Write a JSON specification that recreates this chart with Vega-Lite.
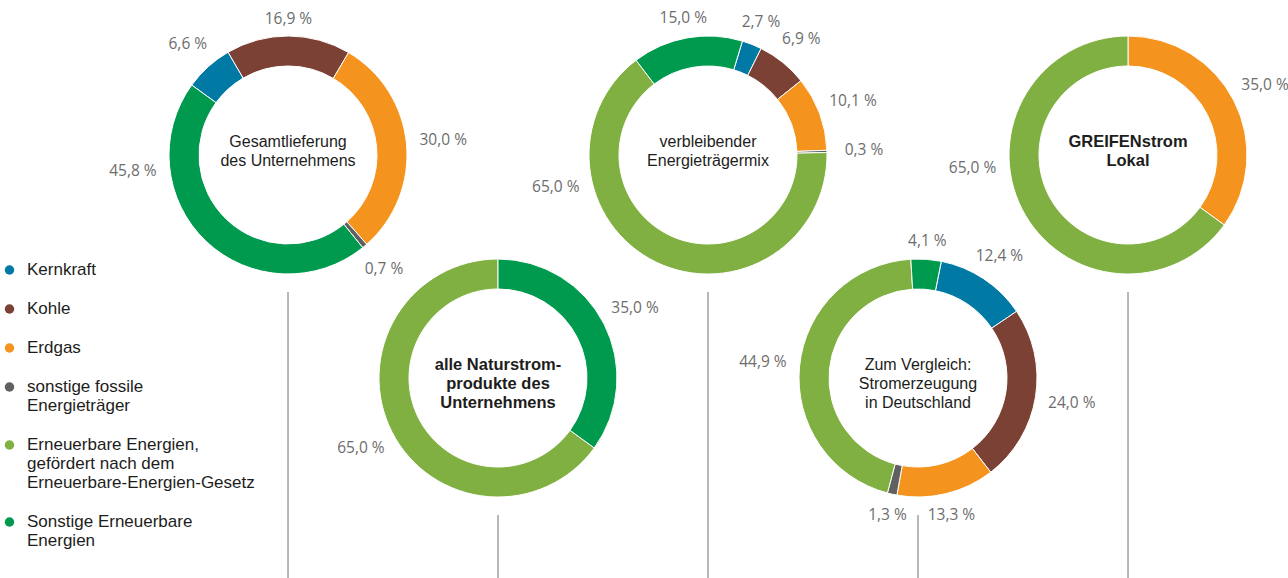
{
  "$schema": "https://vega.github.io/schema/vega-lite/v6.json",
  "width": 1288,
  "height": 578,
  "autosize": {"type": "none"},
  "padding": 0,
  "config": {"view": {"stroke": null}, "font": "Liberation Sans"},
  "datasets": {
    "diagramme": [
      {"chart": "Gesamtlieferung des Unternehmens", "titel": "Gesamtlieferung\ndes Unternehmens", "ebene": "oben"},
      {"chart": "alle Naturstromprodukte des Unternehmens", "titel": "alle Naturstrom-\nprodukte des\nUnternehmens", "ebene": "unten"},
      {"chart": "verbleibender Energieträgermix", "titel": "verbleibender\nEnergieträgermix", "ebene": "oben"},
      {"chart": "Zum Vergleich: Stromerzeugung in Deutschland", "titel": "Zum Vergleich:\nStromerzeugung\nin Deutschland", "ebene": "unten"},
      {"chart": "GREIFENstrom Lokal", "titel": "GREIFENstrom\nLokal", "ebene": "oben"}
    ],
    "traeger": [
      {"source": "Kernkraft", "nr": 1},
      {"source": "Kohle", "nr": 2},
      {"source": "Erdgas", "nr": 3},
      {"source": "sonstige fossile Energieträger", "nr": 4},
      {"source": "Erneuerbare Energien, gefördert nach dem Erneuerbare-Energien-Gesetz", "nr": 5},
      {"source": "Sonstige Erneuerbare Energien", "nr": 6}
    ],
    "anteile": [
      {"chart": "Gesamtlieferung des Unternehmens", "source": "Kernkraft", "value": 6.6},
      {"chart": "Gesamtlieferung des Unternehmens", "source": "Kohle", "value": 16.9},
      {"chart": "Gesamtlieferung des Unternehmens", "source": "Erdgas", "value": 30.0},
      {"chart": "Gesamtlieferung des Unternehmens", "source": "sonstige fossile Energieträger", "value": 0.7},
      {"chart": "Gesamtlieferung des Unternehmens", "source": "Sonstige Erneuerbare Energien", "value": 45.8},
      {"chart": "verbleibender Energieträgermix", "source": "Kernkraft", "value": 2.7},
      {"chart": "verbleibender Energieträgermix", "source": "Kohle", "value": 6.9},
      {"chart": "verbleibender Energieträgermix", "source": "Erdgas", "value": 10.1},
      {"chart": "verbleibender Energieträgermix", "source": "sonstige fossile Energieträger", "value": 0.3},
      {"chart": "verbleibender Energieträgermix", "source": "Erneuerbare Energien, gefördert nach dem Erneuerbare-Energien-Gesetz", "value": 65.0},
      {"chart": "verbleibender Energieträgermix", "source": "Sonstige Erneuerbare Energien", "value": 15.0},
      {"chart": "GREIFENstrom Lokal", "source": "Erdgas", "value": 35.0},
      {"chart": "GREIFENstrom Lokal", "source": "Erneuerbare Energien, gefördert nach dem Erneuerbare-Energien-Gesetz", "value": 65.0},
      {"chart": "alle Naturstromprodukte des Unternehmens", "source": "Erneuerbare Energien, gefördert nach dem Erneuerbare-Energien-Gesetz", "value": 65.0},
      {"chart": "alle Naturstromprodukte des Unternehmens", "source": "Sonstige Erneuerbare Energien", "value": 35.0},
      {"chart": "Zum Vergleich: Stromerzeugung in Deutschland", "source": "Kernkraft", "value": 12.4},
      {"chart": "Zum Vergleich: Stromerzeugung in Deutschland", "source": "Kohle", "value": 24.0},
      {"chart": "Zum Vergleich: Stromerzeugung in Deutschland", "source": "Erdgas", "value": 13.3},
      {"chart": "Zum Vergleich: Stromerzeugung in Deutschland", "source": "sonstige fossile Energieträger", "value": 1.3},
      {"chart": "Zum Vergleich: Stromerzeugung in Deutschland", "source": "Erneuerbare Energien, gefördert nach dem Erneuerbare-Energien-Gesetz", "value": 44.9},
      {"chart": "Zum Vergleich: Stromerzeugung in Deutschland", "source": "Sonstige Erneuerbare Energien", "value": 4.1}
    ]
  },
  "encoding": {
    "x": {"field": "chart", "type": "nominal", "axis": null,
      "scale": {"type": "point", "padding": 0, "range": [288, 1128],
        "domain": ["Gesamtlieferung des Unternehmens", "alle Naturstromprodukte des Unternehmens", "verbleibender Energieträgermix", "Zum Vergleich: Stromerzeugung in Deutschland", "GREIFENstrom Lokal"]}},
    "y": {"field": "ebene", "type": "nominal", "axis": null,
      "scale": {"type": "point", "padding": 0, "range": [155, 601], "domain": ["oben", "unten", "Basis"]}}
  },
  "layer": [
    {
      "data": {"name": "diagramme"},
      "mark": {"type": "rule", "color": "#707070", "strokeWidth": 1, "yOffset": 137},
      "encoding": {"y2": {"datum": "Basis"}}
    },
    {
      "data": {"name": "anteile"},
      "transform": [
        {"filter": {"field": "chart", "equal": "Gesamtlieferung des Unternehmens"}},
        {"lookup": "source", "from": {"data": {"name": "traeger"}, "key": "source", "fields": ["nr"]}},
        {"lookup": "chart", "from": {"data": {"name": "diagramme"}, "key": "chart", "fields": ["ebene"]}},
        {"stack": "value", "groupby": ["chart"], "sort": [{"field": "nr", "order": "ascending"}], "as": ["v0", "v1"]},
        {"calculate": "(datum.v0 + datum.v1) / 2 + (datum.value > 40 ? 11.25 : 0)", "as": "mitte"},
        {"calculate": "abs(sin((datum.mitte * 3.6 - 54) * PI / 180))", "as": "seitlich"},
        {"calculate": "replace(format(datum.value, '.1f'), '.', ',') + ' %'", "as": "beschriftung"}
      ],
      "layer": [
        {
          "mark": {"type": "arc", "innerRadius": 89, "outerRadius": 119, "stroke": "#ffffff", "strokeWidth": 1},
          "encoding": {
            "theta": {"field": "v0", "type": "quantitative", "stack": null, "scale": {"domain": [0, 100], "range": [-0.94248, 5.34071]}},
            "theta2": {"field": "v1"},
            "color": {"field": "source", "type": "nominal",
              "scale": {"domain": ["Kernkraft", "Kohle", "Erdgas", "sonstige fossile Energieträger", "Erneuerbare Energien, gefördert nach dem Erneuerbare-Energien-Gesetz", "Sonstige Erneuerbare Energien"],
                "range": ["#0079a5", "#7c4135", "#f5931f", "#606060", "#80b042", "#009a4e"]},
              "legend": {
                "orient": "none", "legendX": 1, "legendY": 261.5, "title": null, "padding": 0,
                "symbolType": "circle", "symbolSize": 90, "symbolStrokeWidth": 0,
                "labelFont": "Liberation Sans", "labelFontSize": 17, "labelColor": "#1d1d1b", "labelLimit": 0,
                "labelOffset": 9, "rowPadding": 21, "labelBaseline": "middle",
                "labelExpr": "datum.label == 'sonstige fossile Energieträger' ? ['sonstige fossile', 'Energieträger'] : datum.label == 'Erneuerbare Energien, gefördert nach dem Erneuerbare-Energien-Gesetz' ? ['Erneuerbare Energien,', 'gefördert nach dem', 'Erneuerbare-Energien-Gesetz'] : datum.label == 'Sonstige Erneuerbare Energien' ? ['Sonstige Erneuerbare', 'Energien'] : datum.label"
              }}
          }
        },
        {
          "mark": {"type": "text", "font": "Open Sans", "fontSize": 15.5, "color": "#6d6d6d", "align": "center", "baseline": "middle"},
          "encoding": {
            "theta": {"field": "mitte", "type": "quantitative", "stack": null, "scale": {"domain": [0, 100], "range": [-0.94248, 5.34071]}},
            "radius": {"field": "seitlich", "type": "quantitative", "stack": null, "scale": {"type": "linear", "zero": false, "domain": [0, 1], "range": [136, 156]}},
            "text": {"field": "beschriftung", "type": "nominal"}
          }
        }
      ]
    },
    {
      "data": {"name": "anteile"},
      "transform": [
        {"filter": {"field": "chart", "equal": "verbleibender Energieträgermix"}},
        {"lookup": "source", "from": {"data": {"name": "traeger"}, "key": "source", "fields": ["nr"]}},
        {"lookup": "chart", "from": {"data": {"name": "diagramme"}, "key": "chart", "fields": ["ebene"]}},
        {"stack": "value", "groupby": ["chart"], "sort": [{"field": "nr", "order": "ascending"}], "as": ["v0", "v1"]},
        {"calculate": "(datum.v0 + datum.v1) / 2 + (datum.value > 40 ? 14.5 : 0)", "as": "mitte"},
        {"calculate": "abs(sin((datum.mitte * 3.6 + 16.8) * PI / 180))", "as": "seitlich"},
        {"calculate": "replace(format(datum.value, '.1f'), '.', ',') + ' %'", "as": "beschriftung"}
      ],
      "layer": [
        {
          "mark": {"type": "arc", "innerRadius": 89, "outerRadius": 119, "stroke": "#ffffff", "strokeWidth": 1},
          "encoding": {
            "theta": {"field": "v0", "type": "quantitative", "stack": null, "scale": {"domain": [0, 100], "range": [0.29322, 6.5764]}},
            "theta2": {"field": "v1"},
            "color": {"field": "source", "type": "nominal",
              "scale": {"domain": ["Kernkraft", "Kohle", "Erdgas", "sonstige fossile Energieträger", "Erneuerbare Energien, gefördert nach dem Erneuerbare-Energien-Gesetz", "Sonstige Erneuerbare Energien"],
                "range": ["#0079a5", "#7c4135", "#f5931f", "#606060", "#80b042", "#009a4e"]}}
          }
        },
        {
          "mark": {"type": "text", "font": "Open Sans", "fontSize": 15.5, "color": "#6d6d6d", "align": "center", "baseline": "middle"},
          "encoding": {
            "theta": {"field": "mitte", "type": "quantitative", "stack": null, "scale": {"domain": [0, 100], "range": [0.29322, 6.5764]}},
            "radius": {"field": "seitlich", "type": "quantitative", "stack": null, "scale": {"type": "linear", "zero": false, "domain": [0, 1], "range": [136, 156]}},
            "text": {"field": "beschriftung", "type": "nominal"}
          }
        }
      ]
    },
    {
      "data": {"name": "anteile"},
      "transform": [
        {"filter": {"field": "chart", "equal": "GREIFENstrom Lokal"}},
        {"lookup": "source", "from": {"data": {"name": "traeger"}, "key": "source", "fields": ["nr"]}},
        {"lookup": "chart", "from": {"data": {"name": "diagramme"}, "key": "chart", "fields": ["ebene"]}},
        {"stack": "value", "groupby": ["chart"], "sort": [{"field": "nr", "order": "ascending"}], "as": ["v0", "v1"]},
        {"calculate": "(datum.v0 + datum.v1) / 2 + (datum.value > 40 ? 6.2 : 0)", "as": "mitte"},
        {"calculate": "abs(sin((datum.mitte * 3.6) * PI / 180))", "as": "seitlich"},
        {"calculate": "replace(format(datum.value, '.1f'), '.', ',') + ' %'", "as": "beschriftung"}
      ],
      "layer": [
        {
          "mark": {"type": "arc", "innerRadius": 89, "outerRadius": 119, "stroke": "#ffffff", "strokeWidth": 1},
          "encoding": {
            "theta": {"field": "v0", "type": "quantitative", "stack": null, "scale": {"domain": [0, 100], "range": [0, 6.28319]}},
            "theta2": {"field": "v1"},
            "color": {"field": "source", "type": "nominal",
              "scale": {"domain": ["Kernkraft", "Kohle", "Erdgas", "sonstige fossile Energieträger", "Erneuerbare Energien, gefördert nach dem Erneuerbare-Energien-Gesetz", "Sonstige Erneuerbare Energien"],
                "range": ["#0079a5", "#7c4135", "#f5931f", "#606060", "#80b042", "#009a4e"]}}
          }
        },
        {
          "mark": {"type": "text", "font": "Open Sans", "fontSize": 15.5, "color": "#6d6d6d", "align": "center", "baseline": "middle"},
          "encoding": {
            "theta": {"field": "mitte", "type": "quantitative", "stack": null, "scale": {"domain": [0, 100], "range": [0, 6.28319]}},
            "radius": {"field": "seitlich", "type": "quantitative", "stack": null, "scale": {"type": "linear", "zero": false, "domain": [0, 1], "range": [136, 156]}},
            "text": {"field": "beschriftung", "type": "nominal"}
          }
        }
      ]
    },
    {
      "data": {"name": "anteile"},
      "transform": [
        {"filter": {"field": "chart", "equal": "alle Naturstromprodukte des Unternehmens"}},
        {"lookup": "source", "from": {"data": {"name": "traeger"}, "key": "source", "fields": ["nr"]}},
        {"lookup": "chart", "from": {"data": {"name": "diagramme"}, "key": "chart", "fields": ["ebene"]}},
        {"stack": "value", "groupby": ["chart"], "sort": [{"field": "nr", "order": "ascending"}], "as": ["v0", "v1"]},
        {"calculate": "(datum.v0 + datum.v1) / 2", "as": "mitte"},
        {"calculate": "abs(sin((datum.mitte * 3.6 + 126) * PI / 180))", "as": "seitlich"},
        {"calculate": "replace(format(datum.value, '.1f'), '.', ',') + ' %'", "as": "beschriftung"}
      ],
      "layer": [
        {
          "mark": {"type": "arc", "innerRadius": 89, "outerRadius": 119, "stroke": "#ffffff", "strokeWidth": 1},
          "encoding": {
            "theta": {"field": "v0", "type": "quantitative", "stack": null, "scale": {"domain": [0, 100], "range": [2.19911, 8.4823]}},
            "theta2": {"field": "v1"},
            "color": {"field": "source", "type": "nominal",
              "scale": {"domain": ["Kernkraft", "Kohle", "Erdgas", "sonstige fossile Energieträger", "Erneuerbare Energien, gefördert nach dem Erneuerbare-Energien-Gesetz", "Sonstige Erneuerbare Energien"],
                "range": ["#0079a5", "#7c4135", "#f5931f", "#606060", "#80b042", "#009a4e"]}}
          }
        },
        {
          "mark": {"type": "text", "font": "Open Sans", "fontSize": 15.5, "color": "#6d6d6d", "align": "center", "baseline": "middle"},
          "encoding": {
            "theta": {"field": "mitte", "type": "quantitative", "stack": null, "scale": {"domain": [0, 100], "range": [2.19911, 8.4823]}},
            "radius": {"field": "seitlich", "type": "quantitative", "stack": null, "scale": {"type": "linear", "zero": false, "domain": [0, 1], "range": [136, 156]}},
            "text": {"field": "beschriftung", "type": "nominal"}
          }
        }
      ]
    },
    {
      "data": {"name": "anteile"},
      "transform": [
        {"filter": {"field": "chart", "equal": "Zum Vergleich: Stromerzeugung in Deutschland"}},
        {"lookup": "source", "from": {"data": {"name": "traeger"}, "key": "source", "fields": ["nr"]}},
        {"lookup": "chart", "from": {"data": {"name": "diagramme"}, "key": "chart", "fields": ["ebene"]}},
        {"stack": "value", "groupby": ["chart"], "sort": [{"field": "nr", "order": "ascending"}], "as": ["v0", "v1"]},
        {"calculate": "(datum.v0 + datum.v1) / 2", "as": "mitte"},
        {"calculate": "abs(sin((datum.mitte * 3.6 + 11.3) * PI / 180))", "as": "seitlich"},
        {"calculate": "replace(format(datum.value, '.1f'), '.', ',') + ' %'", "as": "beschriftung"}
      ],
      "layer": [
        {
          "mark": {"type": "arc", "innerRadius": 89, "outerRadius": 119, "stroke": "#ffffff", "strokeWidth": 1},
          "encoding": {
            "theta": {"field": "v0", "type": "quantitative", "stack": null, "scale": {"domain": [0, 100], "range": [0.19722, 6.4804]}},
            "theta2": {"field": "v1"},
            "color": {"field": "source", "type": "nominal",
              "scale": {"domain": ["Kernkraft", "Kohle", "Erdgas", "sonstige fossile Energieträger", "Erneuerbare Energien, gefördert nach dem Erneuerbare-Energien-Gesetz", "Sonstige Erneuerbare Energien"],
                "range": ["#0079a5", "#7c4135", "#f5931f", "#606060", "#80b042", "#009a4e"]}}
          }
        },
        {
          "mark": {"type": "text", "font": "Open Sans", "fontSize": 15.5, "color": "#6d6d6d", "align": "center", "baseline": "middle"},
          "encoding": {
            "theta": {"field": "mitte", "type": "quantitative", "stack": null, "scale": {"domain": [0, 100], "range": [0.19722, 6.4804]}},
            "radius": {"field": "seitlich", "type": "quantitative", "stack": null, "scale": {"type": "linear", "zero": false, "domain": [0, 1], "range": [136, 156]}},
            "text": {"field": "beschriftung", "type": "nominal"}
          }
        }
      ]
    },
    {
      "data": {"name": "diagramme"},
      "transform": [{"filter": "datum.chart !== 'GREIFENstrom Lokal' && datum.chart !== 'alle Naturstromprodukte des Unternehmens'"}],
      "mark": {"type": "text", "lineBreak": "\n", "font": "Liberation Sans", "fontSize": 16, "lineHeight": 19.4, "dy": -8.5, "align": "center", "baseline": "alphabetic", "color": "#1d1d1b"},
      "encoding": {"text": {"field": "titel", "type": "nominal"}}
    },
    {
      "data": {"name": "diagramme"},
      "transform": [{"filter": "datum.chart === 'GREIFENstrom Lokal' || datum.chart === 'alle Naturstromprodukte des Unternehmens'"}],
      "mark": {"type": "text", "lineBreak": "\n", "font": "Liberation Sans", "fontSize": 16.5, "fontWeight": "bold", "lineHeight": 19, "dy": -8.5, "align": "center", "baseline": "alphabetic", "color": "#1d1d1b"},
      "encoding": {"text": {"field": "titel", "type": "nominal"}}
    }
  ],
  "resolve": {"scale": {"theta": "independent", "radius": "independent"}}
}
